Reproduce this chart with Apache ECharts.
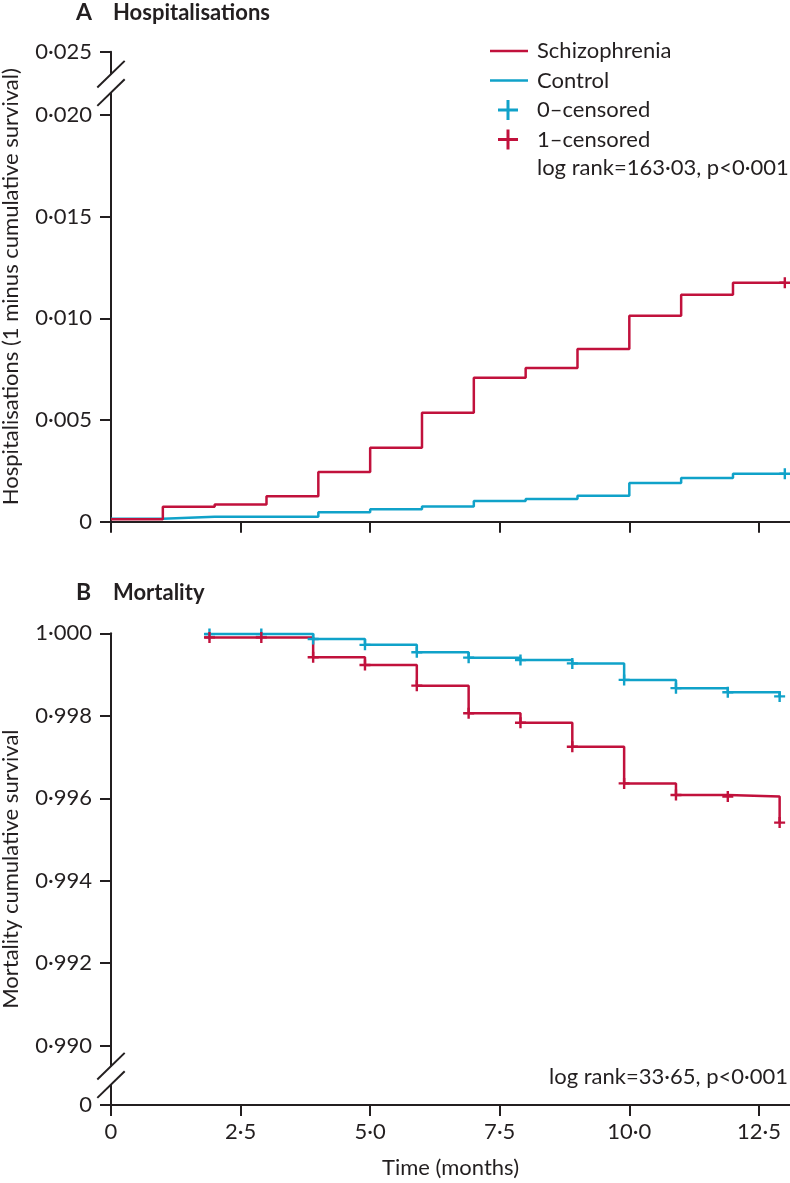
<!DOCTYPE html>
<html>
<head>
<meta charset="utf-8">
<script src="https://cdn.jsdelivr.net/npm/echarts@6.0.0/dist/echarts.min.js"></script>
<style>
  html, body { margin: 0; padding: 0; background: #fff; }
  #chart { width: 790px; height: 1183px; }
</style>
</head>
<body>
<div id="chart"></div>
<script>
// A: hospitalisations, step values at each month
var timesA = [0, 1, 2, 3, 4, 5, 6, 7, 8, 9, 10, 11, 12, 13];
var schizoA = [0.00012, 0.00074, 0.00084, 0.00125, 0.00244, 0.00364, 0.00536, 0.00708, 0.00756, 0.00849, 0.01013, 0.01116, 0.01175, 0.01175];
var controlA = [0.00015, 0.00024, 0.00024, 0.00024, 0.00046, 0.00061, 0.00075, 0.00102, 0.00112, 0.00128, 0.0019, 0.00215, 0.00236, 0.00236];
var censTimesA = [13];
var schizoCensA = [0.01175];
var controlCensA = [0.00236];

// B: mortality cumulative survival
var timesB = [1.8, 3.9, 4.9, 5.9, 6.9, 7.9, 8.9, 9.9, 10.9, 11.9, 12.9];
var schizoB = [0.99990, 0.99942, 0.99923, 0.99873, 0.99806, 0.99783, 0.99725, 0.99636, 0.99608, 0.99604, 0.99541];
var controlB = [0.99998, 0.99986, 0.99972, 0.99954, 0.99941, 0.99935, 0.99927, 0.99887, 0.99867, 0.99857, 0.99847];
var censTimesB = [1.9, 2.9, 3.9, 4.9, 5.9, 6.9, 7.9, 8.9, 9.9, 10.9, 11.9, 12.9];
var schizoCensB = [0.99990, 0.99990, 0.99942, 0.99923, 0.99873, 0.99806, 0.99783, 0.99725, 0.99636, 0.99608, 0.99604, 0.99541];
var controlCensB = [0.99998, 0.99998, 0.99986, 0.99972, 0.99954, 0.99941, 0.99935, 0.99927, 0.99887, 0.99867, 0.99857, 0.99847];

// axes
var xTicks = [0, 2.5, 5, 7.5, 10, 12.5];
var xLabels = ['0', '2·5', '5·0', '7·5', '10·0', '12·5'];
var yMaxA = 0.023115;   // where 0.025 sits after the axis break
var yTicksA = [0, 0.005, 0.01, 0.015, 0.02, yMaxA];
var yLabelsA = ['0', '0·005', '0·010', '0·015', '0·020', '0·025'];
var yMinB = 0.988562;   // where 0 sits after the axis break
var yTicksB = [yMinB, 0.990, 0.992, 0.994, 0.996, 0.998, 1.000];
var yLabelsB = ['0', '0·990', '0·992', '0·994', '0·996', '0·998', '1·000'];

var RED = '#c1113c';
var BLUE = '#10a2c9';
var INK = '#231f20';
var FONT = 'Lato';
var FS = 22;

function pairs(xs, ys) {
  return xs.map(function (x, i) { return [x, ys[i]]; });
}
function pick(ticks, labels) {
  return function (v) {
    var best = 0;
    for (var i = 1; i < ticks.length; i++) {
      if (Math.abs(ticks[i] - v) < Math.abs(ticks[best] - v)) best = i;
    }
    return labels[best];
  };
}

var plus = 'path://M0,4.3H4.3V0H6.7V4.3H11V6.7H6.7V11H4.3V6.7H0Z';
var plusIcon = 'path://M0,8.5H8.5V0H11.5V8.5H20V11.5H11.5V20H8.5V11.5H0Z';

function xAxis(grid, showLabel) {
  return {
    type: 'value', gridIndex: grid, min: 0, max: 13.1,
    axisLine: { onZero: false, lineStyle: { color: INK, width: 2 } },
    axisTick: { length: 11, lineStyle: { color: INK, width: 2 }, customValues: xTicks },
    axisLabel: {
      show: showLabel, customValues: xTicks, formatter: pick(xTicks, xLabels),
      fontFamily: FONT, fontSize: FS, color: INK, margin: 16
    },
    splitLine: { show: false },
    name: showLabel ? 'Time (months)' : '',
    nameLocation: 'middle', nameGap: 52,
    nameTextStyle: { fontFamily: FONT, fontSize: FS, color: INK }
  };
}

function yAxis(grid, min, max, ticks, labels, name) {
  return {
    type: 'value', gridIndex: grid, min: min, max: max,
    axisLine: { show: true, lineStyle: { color: INK, width: 2 } },
    axisTick: { show: true, length: 11, lineStyle: { color: INK, width: 2 }, customValues: ticks },
    axisLabel: {
      customValues: ticks, formatter: pick(ticks, labels),
      fontFamily: FONT, fontSize: FS, color: INK, margin: 19
    },
    splitLine: { show: false },
    name: name, nameLocation: 'middle', nameGap: 89,
    nameTextStyle: { fontFamily: FONT, fontSize: FS, color: INK }
  };
}

function stepLine(name, xs, ys, color, x, y) {
  return {
    name: name, type: 'line', step: 'end', xAxisIndex: x, yAxisIndex: y,
    data: pairs(xs, ys), symbol: 'none',
    lineStyle: { color: color, width: 2.5 }, itemStyle: { color: color }
  };
}
function censor(name, xs, ys, color, x, y) {
  return {
    name: name, type: 'scatter', xAxisIndex: x, yAxisIndex: y,
    data: pairs(xs, ys), symbol: plus, symbolSize: 11,
    itemStyle: { color: color, opacity: 1 }, z: 3
  };
}

var chart = echarts.init(document.getElementById('chart'));
var panelTitle = {
  l: { fontFamily: FONT, fontWeight: 'bold', fontSize: 23, color: INK, width: 37 },
  t: { fontFamily: FONT, fontWeight: 'bold', fontSize: FS, color: INK }
};
var option = {
  animation: false,
  textStyle: { fontFamily: FONT },
  title: [
    { text: '{l|A}{t|Hospitalisations}', left: 76, top: 1, padding: 0, textStyle: { rich: panelTitle } },
    { text: '{l|B}{t|Mortality}', left: 76, top: 581, padding: 0, textStyle: { rich: panelTitle } },
    {
      text: 'log rank=163·03, p<0·001', left: 537, top: 157, padding: 0,
      textStyle: { fontFamily: FONT, fontWeight: 'normal', fontSize: FS, color: INK }
    },
    {
      text: 'log rank=33·65, p<0·001', right: 2, top: 1066, padding: 0,
      textStyle: { fontFamily: FONT, fontWeight: 'normal', fontSize: FS, color: INK }
    }
  ],
  legend: [
    {
      data: [{ name: 'Schizophrenia', icon: 'rect' }, { name: 'Control', icon: 'rect' }],
      orient: 'vertical', left: 485, top: 35, itemGap: 7.5,
      itemWidth: 38, itemHeight: 2.5, selectedMode: false,
      textStyle: { fontFamily: FONT, fontSize: FS, color: INK, padding: [0, 0, 0, 4] }
    },
    {
      data: [{ name: '0–censored', icon: plusIcon }, { name: '1–censored', icon: plusIcon }],
      orient: 'vertical', left: 493, top: 94, itemGap: 7.5,
      itemWidth: 20, itemHeight: 20, selectedMode: false,
      textStyle: { fontFamily: FONT, fontSize: FS, color: INK, padding: [0, 0, 0, 14] }
    }
  ],
  grid: [
    { left: 111, right: 0, top: 51.7, height: 470, outerBoundsMode: 'none' },
    { left: 111, right: 0, top: 633.3, height: 471.7, outerBoundsMode: 'none' }
  ],
  xAxis: [xAxis(0, false), xAxis(1, true)],
  yAxis: [
    yAxis(0, 0, yMaxA, yTicksA, yLabelsA, 'Hospitalisations (1 minus cumulative survival)'),
    yAxis(1, yMinB, 1, yTicksB, yLabelsB, 'Mortality cumulative survival')
  ],
  series: [
    stepLine('Control', timesA, controlA, BLUE, 0, 0),
    stepLine('Schizophrenia', timesA, schizoA, RED, 0, 0),
    censor('0–censored', censTimesA, controlCensA, BLUE, 0, 0),
    censor('1–censored', censTimesA, schizoCensA, RED, 0, 0),
    stepLine('Control', timesB, controlB, BLUE, 1, 1),
    stepLine('Schizophrenia', timesB, schizoB, RED, 1, 1),
    censor('0–censored', censTimesB, controlCensB, BLUE, 1, 1),
    censor('1–censored', censTimesB, schizoCensB, RED, 1, 1)
  ]
};
chart.setOption(option);

// axis break marks (double slash) placed from the axes' own pixel positions
function breakMarks(grid, v1, v2) {
  var p1 = chart.convertToPixel({ gridIndex: grid }, [0, v1]);
  var p2 = chart.convertToPixel({ gridIndex: grid }, [0, v2]);
  var x = p1[0], mid = (p1[1] + p2[1]) / 2;
  var out = [{
    type: 'rect', z: 100,
    shape: { x: x - 4, y: mid - 9, width: 8, height: 18 },
    style: { fill: '#fff' }
  }];
  [-9.2, 9.2].forEach(function (d) {
    out.push({
      type: 'line', z: 101,
      shape: { x1: x - 13.7, y1: mid + d + 13.3, x2: x + 13.7, y2: mid + d - 13.3 },
      style: { stroke: INK, lineWidth: 2 }
    });
  });
  return out;
}
chart.setOption({
  graphic: breakMarks(0, 0.02, yMaxA).concat(breakMarks(1, yMinB, 0.990))
});
</script>
</body>
</html>
